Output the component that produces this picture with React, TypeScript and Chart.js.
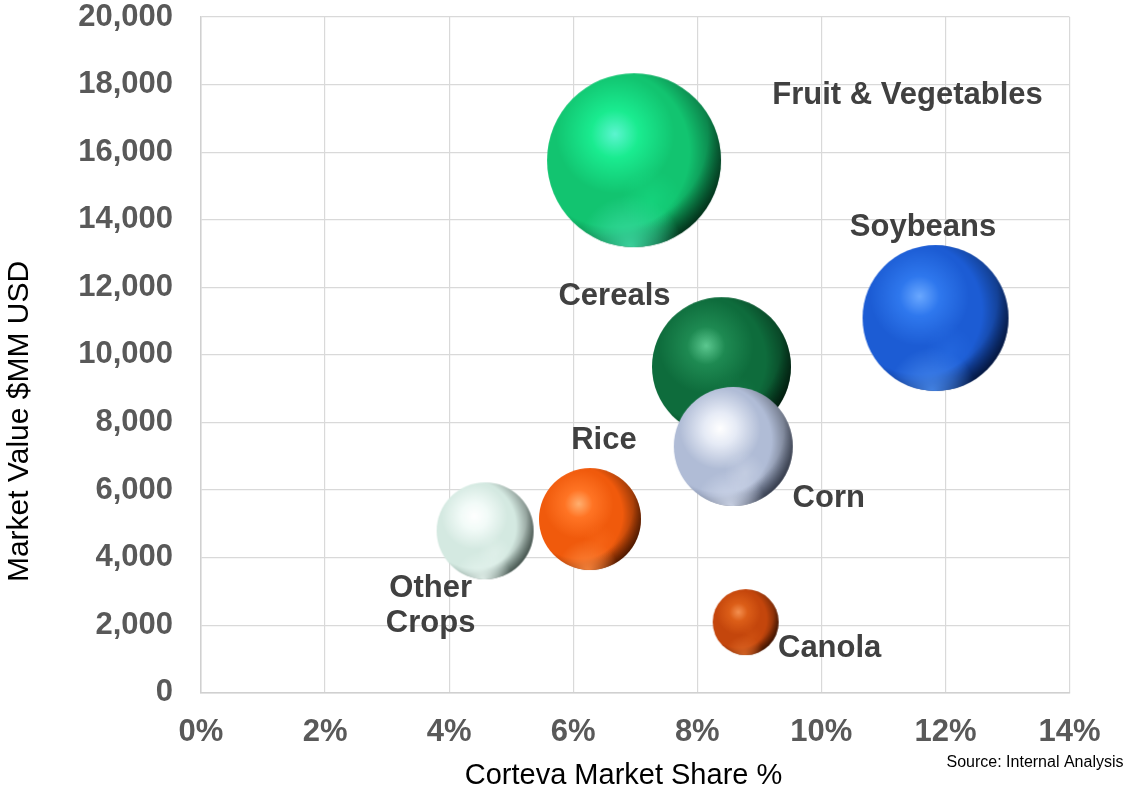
import React, { useEffect, useRef } from "react";
import { Chart, registerables } from "chart.js";

Chart.register(...registerables);

// ---- Data ----
const crops = ["Fruit & Vegetables", "Soybeans", "Cereals", "Corn", "Rice", "Other Crops", "Canola"];
const marketShare = [6.98, 11.84, 8.39, 8.58, 6.27, 4.58, 8.78]; // Corteva market share %
const marketValue = [15760, 11090, 9650, 7290, 5140, 4790, 2090]; // $MM USD
const bubbleSize = [87, 73, 69.5, 59.5, 51, 48.5, 33];
const xTicks = [0, 2, 4, 6, 8, 10, 12, 14];
const yTicks = [0, 2000, 4000, 6000, 8000, 10000, 12000, 14000, 16000, 18000, 20000];

// ---- Styles ----
const FONT = '"Liberation Sans", Arial, Helvetica, sans-serif';
// highlight, light, base, dark, reflection
const palettes: string[][] = [
  ["#5cf5d0", "#1aec90", "#12c470", "#065a30", "#40e0a8"],
  ["#6aa8ff", "#2f78ee", "#1c5cd4", "#082870", "#4a8cf0"],
  ["#5cc890", "#1e8a52", "#0e6c3c", "#033018", "#2a9a60"],
  ["#ffffff", "#e6ebf6", "#b0bcd6", "#5c6884", "#d4dcee"],
  ["#ffb070", "#ff7424", "#f05a0c", "#8a2c00", "#ff8a40"],
  ["#ffffff", "#f2fbf8", "#d4e9e1", "#7c968c", "#e8f6f1"],
  ["#f49050", "#dc5e18", "#c4460c", "#6a2000", "#e06a28"],
];
const labelOffsets: [number, number][][] = [
  [[273.5, -65]],
  [[-12.5, -91]],
  [[-107, -70]],
  [[95.5, 52.5]],
  [[14, -79]],
  [[-54.5, 58], [-54.5, 93]],
  [[84, 26]],
];
const labelLines = [["Fruit & Vegetables"], ["Soybeans"], ["Cereals"], ["Corn"], ["Rice"], ["Other", "Crops"], ["Canola"]];

function rgba(hex: string, a: number) {
  const n = parseInt(hex.slice(1), 16);
  return `rgba(${(n >> 16) & 255},${(n >> 8) & 255},${n & 255},${a})`;
}

const sphereCache: Record<string, HTMLCanvasElement> = {};
function makeSphere(r: number, pal: string[]) {
  const key = r + pal.join();
  if (sphereCache[key]) return sphereCache[key];
  const size = Math.ceil(2 * r) + 2;
  const cv = document.createElement("canvas");
  cv.width = size;
  cv.height = size;
  const x = cv.getContext("2d") as CanvasRenderingContext2D;
  const c = size / 2;
  x.beginPath();
  x.arc(c, c, r, 0, Math.PI * 2);
  x.closePath();
  x.save();
  x.clip();
  // main body
  const g = x.createRadialGradient(c - 0.22 * r, c - 0.3 * r, 0, c - 0.22 * r, c - 0.3 * r, 1.37 * r);
  g.addColorStop(0, pal[0]);
  g.addColorStop(0.2, pal[1]);
  g.addColorStop(0.5, pal[2]);
  g.addColorStop(0.78, pal[2]);
  g.addColorStop(1, pal[3]);
  x.fillStyle = g;
  x.fillRect(0, 0, size, size);
  // right rim shading
  const g2 = x.createRadialGradient(c - 0.3 * r, c - 0.1 * r, 0, c - 0.3 * r, c - 0.1 * r, 1.3 * r);
  g2.addColorStop(0, "rgba(0,0,0,0)");
  g2.addColorStop(0.72, "rgba(0,0,0,0)");
  g2.addColorStop(1, "rgba(0,0,0,0.45)");
  x.fillStyle = g2;
  x.fillRect(0, 0, size, size);
  // bottom reflection
  const g3 = x.createRadialGradient(c - 0.05 * r, c + 1.0 * r, 0, c - 0.05 * r, c + 1.0 * r, 0.6 * r);
  g3.addColorStop(0, rgba(pal[4], 0.9));
  g3.addColorStop(0.55, rgba(pal[4], 0.45));
  g3.addColorStop(1, rgba(pal[4], 0));
  x.fillStyle = g3;
  x.fillRect(0, 0, size, size);
  // secondary soft glow lower right
  const g4 = x.createRadialGradient(c + 0.2 * r, c + 0.45 * r, 0, c + 0.2 * r, c + 0.45 * r, 0.35 * r);
  g4.addColorStop(0, rgba(pal[1], 0.35));
  g4.addColorStop(1, rgba(pal[1], 0));
  x.fillStyle = g4;
  x.fillRect(0, 0, size, size);
  x.restore();
  sphereCache[key] = cv;
  return cv;
}

function sphereStyle(ctx: any) {
  if (ctx.type !== "data") return "circle";
  const pal = palettes[ctx.dataIndex] || palettes[0];
  return makeSphere(ctx.raw.r, pal);
}

const textPlugin = {
  id: "textPlugin",
  afterDatasetsDraw(chart: any) {
    const c = chart.ctx;
    const xs = chart.scales.x;
    const ys = chart.scales.y;
    c.save();
    // bubble labels
    c.font = `bold 31px ${FONT}`;
    c.fillStyle = "#404040";
    c.textAlign = "center";
    c.textBaseline = "middle";
    crops.forEach((_, i) => {
      const px = xs.getPixelForValue(marketShare[i]);
      const py = ys.getPixelForValue(marketValue[i]);
      labelLines[i].forEach((line, j) => {
        const [dx, dy] = labelOffsets[i][j];
        c.fillText(line, px + dx, py + dy);
      });
    });
    // axis titles
    c.fillStyle = "#000000";
    c.font = `29px ${FONT}`;
    c.fillText("Corteva Market Share %", 623.5, 776);
    c.save();
    c.translate(20, 421.5);
    c.rotate(-Math.PI / 2);
    c.font = `30px ${FONT}`;
    c.fillText("Market Value $MM USD", 0, 0);
    c.restore();
    c.font = `16px ${FONT}`;
    c.fillText("Source: Internal Analysis", 1035, 763);
    c.restore();
  },
};

export default function App() {
  const canvasRef = useRef<HTMLCanvasElement | null>(null);

  useEffect(() => {
    if (!canvasRef.current) return;
    const data = crops.map((_, i) => ({ x: marketShare[i], y: marketValue[i], r: bubbleSize[i] }));
    const chart = new Chart(canvasRef.current, {
      type: "bubble",
      data: {
        datasets: [
          {
            label: "Crops",
            data,
            pointStyle: sphereStyle as any,
            backgroundColor: palettes.map((p) => p[2]),
            borderWidth: 0,
            hoverBorderWidth: 0,
          },
        ],
      },
      plugins: [textPlugin],
      options: {
        animation: false,
        responsive: true,
        maintainAspectRatio: false,
        layout: { autoPadding: false, padding: { top: 17, right: 57.5, left: 0, bottom: 0 } },
        plugins: {
          legend: { display: false },
          tooltip: { enabled: false },
          title: { display: false },
        },
        scales: {
          x: {
            type: "linear",
            min: 0,
            max: 14,
            afterBuildTicks: (scale: any) => {
              scale.ticks = xTicks.map((v) => ({ value: v }));
            },
            afterFit: (scale: any) => {
              scale.height = 101.3;
              scale.paddingLeft = 0;
              scale.paddingRight = 0;
            },
            grid: { color: "#d9d9d9", lineWidth: 1.2, drawTicks: false },
            border: { color: "#d0d0d0", width: 1.5 },
            ticks: {
              padding: 24,
              color: "#595959",
              font: { family: FONT, size: 31, weight: "bold", lineHeight: 1 },
              maxRotation: 0,
              autoSkip: false,
              callback: (v: any) => `${v}%`,
            },
          },
          y: {
            type: "linear",
            min: 0,
            max: 20000,
            afterBuildTicks: (scale: any) => {
              scale.ticks = yTicks.map((v) => ({ value: v }));
            },
            afterFit: (scale: any) => {
              scale.width = 201;
              scale.paddingTop = 0;
              scale.paddingBottom = 0;
            },
            grid: { color: "#d9d9d9", lineWidth: 1.2, drawTicks: false },
            border: { color: "#d0d0d0", width: 1.5 },
            ticks: {
              padding: 28,
              color: "#595959",
              font: { family: FONT, size: 31, weight: "bold", lineHeight: 1 },
              autoSkip: false,
              callback: (v: any) => Number(v).toLocaleString("en-US"),
            },
          },
        },
      } as any,
    });
    return () => chart.destroy();
  }, []);

  return (
    <div style={{ position: "fixed", left: 0, top: 0, width: 1127, height: 794, background: "#ffffff" }}>
      <canvas ref={canvasRef} />
    </div>
  );
}
